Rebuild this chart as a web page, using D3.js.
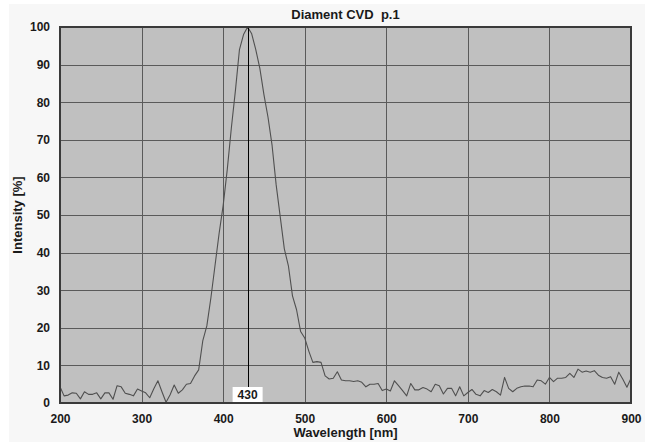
<!DOCTYPE html>
<html><head><meta charset="utf-8">
<script src="https://cdn.jsdelivr.net/npm/d3@7"></script>
<style>
html,body{margin:0;padding:0;background:#fff;}
svg text{font-family:"Liberation Sans",Arial,sans-serif;font-weight:bold;fill:#1a1a1a;}
</style></head>
<body><svg id="c" width="654" height="446"></svg>
<script>
const title = "Diament CVD  p.1";
const xLabel = "Wavelength [nm]";
const yLabel = "Intensity [%]";
const xTicks = [200, 300, 400, 500, 600, 700, 800, 900];
const yTicks = [0, 10, 20, 30, 40, 50, 60, 70, 80, 90, 100];
const peakWavelength = 430;
const wavelengthStart = 200, wavelengthStep = 5;
const intensity = [
 4.3, 1.9, 2.1, 2.7, 2.6, 1.1, 3.0, 2.3, 2.3, 2.7,   // 200-245
 1.1, 2.7, 2.7, 1.0, 4.6, 4.3, 2.6, 2.3, 1.9, 3.7,   // 250-295
 3.2, 2.7, 1.4, 3.8, 5.9, 3.0, 0.2, 2.2, 4.8, 2.6,   // 300-345
 3.5, 5.0, 5.2, 7.2, 8.8, 16.5, 20.5, 28, 36.5, 45,  // 350-395
 52.5, 62, 73, 83, 94, 98, 100, 98.2, 94, 89,        // 400-445
 82, 76, 68.5, 58, 49.5, 41, 36.5, 28.5, 24.8, 19,   // 450-495
 17.3, 13.8, 10.8, 11, 10.8, 7.2, 6.4, 6.6, 8.3, 6.1, // 500-545
 5.9, 5.9, 5.7, 5.9, 5.5, 4.3, 5.0, 5.0, 5.2, 3.3,   // 550-595
 3.7, 3.2, 5.9, 4.6, 3.3, 1.9, 5.2, 3.5, 3.5, 4.1,   // 600-645
 3.7, 3.0, 5.0, 4.6, 2.4, 3.9, 3.9, 1.9, 4.3, 1.9,   // 650-695
 2.8, 3.6, 2.3, 1.9, 3.3, 2.8, 3.6, 3.0, 2.1, 6.8,   // 700-745
 3.9, 3.0, 3.9, 4.3, 4.5, 4.5, 4.3, 6.1, 5.9, 5.0,   // 750-795
 6.8, 5.7, 6.6, 6.6, 6.8, 7.9, 6.8, 9.0, 8.2, 8.5,   // 800-845
 8.2, 8.6, 7.4, 6.8, 6.6, 7.0, 5.0, 8.2, 6.3, 4.2,   // 850-895
 6.6                                                 // 900
];
const wavelengths = intensity.map((_, i) => wavelengthStart + i * wavelengthStep);

const svg = d3.select("#c");
const L = 60, R = 631, T = 27, B = 403;
const x = d3.scaleLinear().domain([200, 900]).range([L, R]);
const y = d3.scaleLinear().domain([0, 100]).range([B, T]);

// outer panel
svg.append("rect").attr("x", 9).attr("y", 4).attr("width", 636).attr("height", 438).attr("fill", "#f7f7f7");
// plot area
svg.append("rect").attr("x", L).attr("y", T).attr("width", R - L).attr("height", B - T).attr("fill", "#c0c0c0");

// grid
const g = svg.append("g");
g.selectAll(".vg").data(xTicks.slice(1, -1)).join("line")
  .attr("x1", d => Math.round(x(d)) + 0.5).attr("x2", d => Math.round(x(d)) + 0.5)
  .attr("y1", T).attr("y2", B).attr("stroke", "#5a5a5a").attr("stroke-width", 1);
g.selectAll(".hg").data(yTicks.slice(1, -1)).join("line")
  .attr("y1", d => Math.round(y(d)) + 0.5).attr("y2", d => Math.round(y(d)) + 0.5)
  .attr("x1", L).attr("x2", R).attr("stroke", "#5a5a5a").attr("stroke-width", 1);

// data line
const line = d3.line().x((d, i) => x(wavelengths[i])).y(d => y(d));
svg.append("path").datum(intensity).attr("d", line)
  .attr("fill", "none").attr("stroke", "#505050").attr("stroke-width", 1.1).attr("stroke-linejoin", "round");

// peak marker
svg.append("line").attr("x1", Math.round(x(peakWavelength)) + 0.5).attr("x2", Math.round(x(peakWavelength)) + 0.5)
  .attr("y1", T).attr("y2", B).attr("stroke", "#000").attr("stroke-width", 1);
svg.append("rect").attr("x", x(peakWavelength) - 15).attr("y", 387).attr("width", 30).attr("height", 15).attr("fill", "#fff");
svg.append("text").attr("x", x(peakWavelength)).attr("y", 399).attr("text-anchor", "middle")
  .attr("font-size", 12).text(peakWavelength);

// frame
svg.append("rect").attr("x", L).attr("y", T).attr("width", R - L).attr("height", B - T)
  .attr("fill", "none").attr("stroke", "#3a3a3a").attr("stroke-width", 2);

// axes
const xa = svg.append("g").attr("transform", `translate(0,${B})`)
  .call(d3.axisBottom(x).tickValues(xTicks).tickSize(0).tickPadding(11).tickFormat(d3.format("d")));
xa.select(".domain").remove();
xa.selectAll("text").attr("font-size", 12).attr("font-family", null).style("fill", "#1a1a1a");
const ya = svg.append("g").attr("transform", `translate(${L},0)`)
  .call(d3.axisLeft(y).tickValues(yTicks).tickSize(0).tickPadding(10).tickFormat(d3.format("d")));
ya.select(".domain").remove();
ya.selectAll("text").attr("font-size", 12).attr("font-family", null).style("fill", "#1a1a1a");

// titles
svg.append("text").attr("x", (L + R) / 2).attr("y", 19).attr("text-anchor", "middle")
  .attr("font-size", 13).style("white-space", "pre").attr("xml:space", "preserve").text(title);
svg.append("text").attr("x", (L + R) / 2).attr("y", 437).attr("text-anchor", "middle")
  .attr("font-size", 13).text(xLabel);
svg.append("text").attr("transform", `translate(22,${(T + B) / 2}) rotate(-90)`).attr("text-anchor", "middle")
  .attr("font-size", 13).text(yLabel);
</script></body></html>
